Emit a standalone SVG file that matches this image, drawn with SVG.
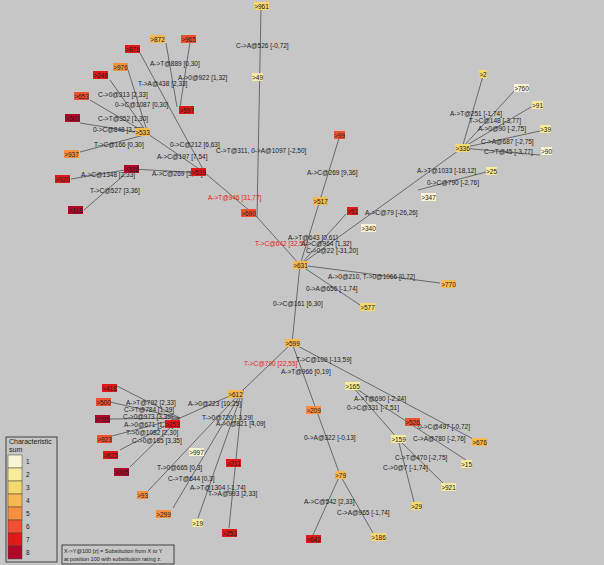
<svg xmlns="http://www.w3.org/2000/svg" width="604" height="565" viewBox="0 0 604 565">
<style>
text{font-family:"Liberation Sans",Arial,sans-serif;font-size:6.5px;fill:#202020}
.n text{font-size:6.5px;text-anchor:middle}
.r{fill:#e82020}
#edges line{stroke:#505050;stroke-width:0.8}
.c1{fill:#f8f4d4}.c2{fill:#f8ec9c}.c3{fill:#f4d870}.c4{fill:#f8b850}.c5{fill:#f89040}.c6{fill:#f05030}.c7{fill:#e01818}.c8{fill:#b00828}
.lg{fill:none;stroke:#404040;stroke-width:1}
</style>
<rect width="604" height="565" fill="#c6c6c6"/>
<g id="edges">
<line x1="261" y1="8" x2="257" y2="217"/>
<line x1="257" y1="217" x2="300" y2="265"/>
<line x1="140" y1="53" x2="205" y2="173"/>
<line x1="166" y1="43" x2="177" y2="107"/>
<line x1="190" y1="42" x2="180" y2="107"/>
<line x1="205" y1="173" x2="257" y2="217"/>
<line x1="148" y1="134" x2="205" y2="173"/>
<line x1="128" y1="70" x2="148" y2="134"/>
<line x1="110" y1="80" x2="148" y2="134"/>
<line x1="90" y1="100" x2="148" y2="134"/>
<line x1="80" y1="123" x2="148" y2="134"/>
<line x1="80" y1="152" x2="148" y2="134"/>
<line x1="131" y1="169" x2="205" y2="173"/>
<line x1="71" y1="179" x2="131" y2="169"/>
<line x1="84" y1="210" x2="131" y2="169"/>
<line x1="300" y1="265" x2="340" y2="135"/>
<line x1="300" y1="265" x2="346" y2="214"/>
<line x1="300" y1="265" x2="462" y2="148"/>
<line x1="418" y1="190" x2="490" y2="171"/>
<line x1="462" y1="148" x2="483" y2="76"/>
<line x1="462" y1="148" x2="515" y2="90"/>
<line x1="462" y1="148" x2="531" y2="107"/>
<line x1="462" y1="148" x2="540" y2="131"/>
<line x1="462" y1="148" x2="540" y2="155"/>
<line x1="300" y1="265" x2="440" y2="283"/>
<line x1="300" y1="265" x2="360" y2="305"/>
<line x1="300" y1="265" x2="292" y2="343"/>
<line x1="292" y1="343" x2="243" y2="390"/>
<line x1="243" y1="390" x2="180" y2="418"/>
<line x1="180" y1="418" x2="117" y2="386"/>
<line x1="180" y1="418" x2="110" y2="402"/>
<line x1="180" y1="418" x2="110" y2="419"/>
<line x1="180" y1="418" x2="112" y2="436"/>
<line x1="180" y1="418" x2="120" y2="450"/>
<line x1="180" y1="418" x2="130" y2="467"/>
<line x1="243" y1="390" x2="148" y2="491"/>
<line x1="243" y1="390" x2="173" y2="508"/>
<line x1="243" y1="390" x2="198" y2="518"/>
<line x1="243" y1="390" x2="229" y2="528"/>
<line x1="292" y1="343" x2="340" y2="475"/>
<line x1="340" y1="475" x2="313" y2="535"/>
<line x1="340" y1="475" x2="373" y2="533"/>
<line x1="292" y1="343" x2="475" y2="440"/>
<line x1="352" y1="386" x2="466" y2="460"/>
<line x1="352" y1="386" x2="398" y2="439"/>
<line x1="398" y1="439" x2="445" y2="485"/>
<line x1="398" y1="439" x2="414" y2="502"/>
</g>
<g id="labels">
<text x="236" y="48">C-&gt;A@526 [-0,72]</text>
<text x="150" y="66">A-&gt;T@889 [0,30]</text>
<text x="178" y="80">A-&gt;0@922 [1,32]</text>
<text x="138" y="86">T-&gt;A@438 [2,33]</text>
<text x="98" y="97">C-&gt;0@313 [2,33]</text>
<text x="115" y="107">0-&gt;C@1087 [0,30]</text>
<text x="98" y="121">C-&gt;T@352 [1,30]</text>
<text x="93" y="132">0-&gt;C@848 [3,27]</text>
<text x="94" y="147">T-&gt;C@166 [0,30]</text>
<text x="170" y="147">0-&gt;C@212 [6,63]</text>
<text x="216" y="153">C-&gt;T@311, 0-&gt;A@1097 [-2,50]</text>
<text x="157" y="159">A-&gt;C@197 [7,54]</text>
<text x="152" y="176">A-&gt;C@269 [3,28]</text>
<text x="81" y="177">A-&gt;C@1348 [2,33]</text>
<text x="90" y="193">T-&gt;C@527 [3,36]</text>
<text class="r" x="208" y="200">A-&gt;T@946 [31,77]</text>
<text x="307" y="175">A-&gt;C@269 [9,36]</text>
<text x="365" y="215">A-&gt;C@79 [-26,26]</text>
<text x="417" y="173">A-&gt;T@1033 [-18,12]</text>
<text x="427" y="185">0-&gt;C@790 [-2,76]</text>
<text x="450" y="116">A-&gt;T@251 [-1,74]</text>
<text x="469" y="123">T-&gt;C@148 [-3,77]</text>
<text x="478" y="131">A-&gt;0@90 [-2,75]</text>
<text x="481" y="144">C-&gt;A@687 [-2,75]</text>
<text x="484" y="154">C-&gt;T@45 [-3,77]</text>
<text x="288" y="240">A-&gt;T@643 [0,61]</text>
<text class="r" x="255" y="246">T-&gt;C@642 [32,51]</text>
<text x="301" y="246">A-&gt;C@964 [1,32]</text>
<text x="306" y="253">C-&gt;0@22 [-31,20]</text>
<text x="328" y="279">A-&gt;0@210, T-&gt;0@1066 [0,72]</text>
<text x="306" y="291">0-&gt;A@656 [-1,74]</text>
<text x="273" y="306">0-&gt;C@161 [6,30]</text>
<text class="r" x="244" y="366">T-&gt;C@790 [22,55]</text>
<text x="296" y="362">T-&gt;C@109 [-13,59]</text>
<text x="281" y="374">A-&gt;T@966 [0,19]</text>
<text x="188" y="406">A-&gt;0@223 [10,25]</text>
<text x="126" y="405">A-&gt;T@792 [2,33]</text>
<text x="124" y="412">C-&gt;T@784 [1,39]</text>
<text x="123" y="419">C-&gt;0@973 [3,39]</text>
<text x="124" y="427">A-&gt;0@671 [1,22]</text>
<text x="126" y="435">T-&gt;0@1082 [2,30]</text>
<text x="132" y="443">C-&gt;0@185 [3,35]</text>
<text x="202" y="420">T-&gt;0@720 [-3,29]</text>
<text x="216" y="426">A-&gt;0@821 [4,09]</text>
<text x="157" y="470">T-&gt;0@665 [0,3]</text>
<text x="168" y="481">C-&gt;T@644 [0,3]</text>
<text x="190" y="490">A-&gt;T@1304 [-1,74]</text>
<text x="208" y="496">T-&gt;A@993 [2,33]</text>
<text x="304" y="440">0-&gt;A@322 [-0,13]</text>
<text x="304" y="504">A-&gt;C@542 [2,33]</text>
<text x="337" y="515">C-&gt;A@965 [-1,74]</text>
<text x="354" y="401">A-&gt;T@690 [-2,24]</text>
<text x="347" y="410">0-&gt;C@331 [-7,51]</text>
<text x="418" y="429">0-&gt;C@497 [-0,72]</text>
<text x="413" y="441">C-&gt;A@780 [-2,76]</text>
<text x="395" y="460">C-&gt;T@470 [-2,75]</text>
<text x="383" y="470">C-&gt;0@7 [-1,74]</text>
</g>
<g class="n">
<g id="n961"><rect class="c3" x="254" y="2" width="15" height="8"/><text x="261.5" y="8.5">&gt;961</text></g>
<g id="n49"><rect class="c2" x="252" y="73" width="11" height="8"/><text x="257.5" y="79.5">&gt;49</text></g>
<g id="n872"><rect class="c4" x="150" y="35" width="15" height="8"/><text x="157.5" y="41.5">&gt;872</text></g>
<g id="n965"><rect class="c6" x="181" y="35" width="15" height="8"/><text x="188.5" y="41.5">&gt;965</text></g>
<g id="n876"><rect class="c7" x="125" y="45" width="15" height="8"/><text x="132.5" y="51.5">&gt;876</text></g>
<g id="n976"><rect class="c5" x="113" y="63" width="15" height="8"/><text x="120.5" y="69.5">&gt;976</text></g>
<g id="n246"><rect class="c7" x="93" y="71" width="15" height="8"/><text x="100.5" y="77.5">&gt;246</text></g>
<g id="n653"><rect class="c6" x="74" y="92" width="15" height="8"/><text x="81.5" y="98.5">&gt;653</text></g>
<g id="n501"><rect class="c8" x="65" y="114" width="15" height="8"/><text x="72.5" y="120.5">&gt;501</text></g>
<g id="n937"><rect class="c5" x="64" y="150" width="15" height="8"/><text x="71.5" y="156.5">&gt;937</text></g>
<g id="n597"><rect class="c7" x="179" y="106" width="15" height="8"/><text x="186.5" y="112.5">&gt;597</text></g>
<g id="n533"><rect class="c4" x="135" y="128" width="15" height="8"/><text x="142.5" y="134.5">&gt;533</text></g>
<g id="n539"><rect class="c7" x="191" y="168" width="15" height="8"/><text x="198.5" y="174.5">&gt;539</text></g>
<g id="n920"><rect class="c7" x="55" y="175" width="15" height="8"/><text x="62.5" y="181.5">&gt;920</text></g>
<g id="n328"><rect class="c8" x="124" y="165" width="15" height="8"/><text x="131.5" y="171.5">&gt;328</text></g>
<g id="n118"><rect class="c8" x="68" y="206" width="15" height="8"/><text x="75.5" y="212.5">&gt;118</text></g>
<g id="n690"><rect class="c6" x="241" y="209" width="15" height="8"/><text x="248.5" y="215.5">&gt;690</text></g>
<g id="n99"><rect class="c6" x="334" y="131" width="11" height="8"/><text x="339.5" y="137.5">&gt;99</text></g>
<g id="n517"><rect class="c4" x="313" y="197" width="15" height="8"/><text x="320.5" y="203.5">&gt;517</text></g>
<g id="n51"><rect class="c7" x="347" y="207" width="11" height="8"/><text x="352.5" y="213.5">&gt;51</text></g>
<g id="n340"><rect class="c1" x="361" y="224" width="15" height="8"/><text x="368.5" y="230.5">&gt;340</text></g>
<g id="n347"><rect class="c1" x="421" y="193" width="15" height="8"/><text x="428.5" y="199.5">&gt;347</text></g>
<g id="n25"><rect class="c2" x="486" y="167" width="11" height="8"/><text x="491.5" y="173.5">&gt;25</text></g>
<g id="n336"><rect class="c3" x="455" y="144" width="15" height="8"/><text x="462.5" y="150.5">&gt;336</text></g>
<g id="n2"><rect class="c3" x="479" y="70" width="8" height="8"/><text x="483" y="76.5">&gt;2</text></g>
<g id="n760"><rect class="c1" x="514" y="84" width="15" height="8"/><text x="521.5" y="90.5">&gt;760</text></g>
<g id="n91"><rect class="c2" x="532" y="101" width="11" height="8"/><text x="537.5" y="107.5">&gt;91</text></g>
<g id="n39"><rect class="c2" x="540" y="125" width="11" height="8"/><text x="545.5" y="131.5">&gt;39</text></g>
<g id="n90"><rect class="c1" x="541" y="147" width="11" height="8"/><text x="546.5" y="153.5">&gt;90</text></g>
<g id="n631"><rect class="c4" x="293" y="261" width="15" height="8"/><text x="300.5" y="267.5">&gt;631</text></g>
<g id="n770"><rect class="c4" x="441" y="280" width="15" height="8"/><text x="448.5" y="286.5">&gt;770</text></g>
<g id="n577"><rect class="c3" x="360" y="303" width="15" height="8"/><text x="367.5" y="309.5">&gt;577</text></g>
<g id="n599"><rect class="c4" x="285" y="339" width="15" height="8"/><text x="292.5" y="345.5">&gt;599</text></g>
<g id="n612"><rect class="c4" x="228" y="390" width="15" height="8"/><text x="235.5" y="396.5">&gt;612</text></g>
<g id="n253a"><rect class="c7" x="165" y="420" width="15" height="8"/><text x="172.5" y="426.5">&gt;253</text></g>
<g id="n418"><rect class="c7" x="102" y="384" width="15" height="8"/><text x="109.5" y="390.5">&gt;418</text></g>
<g id="n500"><rect class="c6" x="96" y="398" width="15" height="8"/><text x="103.5" y="404.5">&gt;500</text></g>
<g id="n785"><rect class="c8" x="95" y="415" width="15" height="8"/><text x="102.5" y="421.5">&gt;785</text></g>
<g id="n923"><rect class="c6" x="97" y="435" width="15" height="8"/><text x="104.5" y="441.5">&gt;923</text></g>
<g id="n825"><rect class="c7" x="103" y="451" width="15" height="8"/><text x="110.5" y="457.5">&gt;825</text></g>
<g id="n205"><rect class="c8" x="114" y="468" width="15" height="8"/><text x="121.5" y="474.5">&gt;205</text></g>
<g id="n997"><rect class="c1" x="189" y="448" width="15" height="8"/><text x="196.5" y="454.5">&gt;997</text></g>
<g id="n211"><rect class="c7" x="226" y="459" width="15" height="8"/><text x="233.5" y="465.5">&gt;211</text></g>
<g id="n93"><rect class="c5" x="137" y="491" width="11" height="8"/><text x="142.5" y="497.5">&gt;93</text></g>
<g id="n299"><rect class="c5" x="156" y="510" width="15" height="8"/><text x="163.5" y="516.5">&gt;299</text></g>
<g id="n19"><rect class="c2" x="192" y="519" width="11" height="8"/><text x="197.5" y="525.5">&gt;19</text></g>
<g id="n253b"><rect class="c7" x="222" y="529" width="15" height="8"/><text x="229.5" y="535.5">&gt;253</text></g>
<g id="n209"><rect class="c5" x="306" y="406" width="15" height="8"/><text x="313.5" y="412.5">&gt;209</text></g>
<g id="n79"><rect class="c4" x="335" y="471" width="11" height="8"/><text x="340.5" y="477.5">&gt;79</text></g>
<g id="n642"><rect class="c7" x="306" y="535" width="15" height="8"/><text x="313.5" y="541.5">&gt;642</text></g>
<g id="n186"><rect class="c3" x="371" y="533" width="15" height="8"/><text x="378.5" y="539.5">&gt;186</text></g>
<g id="n165"><rect class="c2" x="345" y="382" width="15" height="8"/><text x="352.5" y="388.5">&gt;165</text></g>
<g id="n526"><rect class="c6" x="405" y="418" width="15" height="8"/><text x="412.5" y="424.5">&gt;526</text></g>
<g id="n676"><rect class="c4" x="472" y="438" width="15" height="8"/><text x="479.5" y="444.5">&gt;676</text></g>
<g id="n15"><rect class="c2" x="461" y="460" width="11" height="8"/><text x="466.5" y="466.5">&gt;15</text></g>
<g id="n159"><rect class="c2" x="391" y="435" width="15" height="8"/><text x="398.5" y="441.5">&gt;159</text></g>
<g id="n921"><rect class="c2" x="441" y="483" width="15" height="8"/><text x="448.5" y="489.5">&gt;921</text></g>
<g id="n29"><rect class="c3" x="411" y="502" width="11" height="8"/><text x="416.5" y="508.5">&gt;29</text></g>
</g>
<g id="legend">
<rect class="lg" x="6" y="437" width="51" height="125"/>
<text x="9" y="444" style="font-size:7px">Characteristic</text>
<text x="9" y="452" style="font-size:7px">sum</text>
<rect class="c1" x="8" y="455" width="14" height="13" stroke="#404040" stroke-width="0.5"/><text x="26" y="464">1</text>
<rect class="c2" x="8" y="468" width="14" height="13" stroke="#404040" stroke-width="0.5"/><text x="26" y="477">2</text>
<rect class="c3" x="8" y="481" width="14" height="13" stroke="#404040" stroke-width="0.5"/><text x="26" y="490">3</text>
<rect class="c4" x="8" y="494" width="14" height="13" stroke="#404040" stroke-width="0.5"/><text x="26" y="503">4</text>
<rect class="c5" x="8" y="507" width="14" height="13" stroke="#404040" stroke-width="0.5"/><text x="26" y="516">5</text>
<rect class="c6" x="8" y="520" width="14" height="13" stroke="#404040" stroke-width="0.5"/><text x="26" y="529">6</text>
<rect class="c7" x="8" y="533" width="14" height="13" stroke="#404040" stroke-width="0.5"/><text x="26" y="542">7</text>
<rect class="c8" x="8" y="546" width="14" height="13" stroke="#404040" stroke-width="0.5"/><text x="26" y="555">8</text>
<rect class="lg" x="62" y="545" width="112" height="19"/>
<text x="64" y="553" style="font-size:5.5px">X-&gt;Y@100 [z] = Substitution from X to Y</text>
<text x="64" y="561" style="font-size:5.5px">at position 100 with substitution rating z.</text>
</g>
</svg>
